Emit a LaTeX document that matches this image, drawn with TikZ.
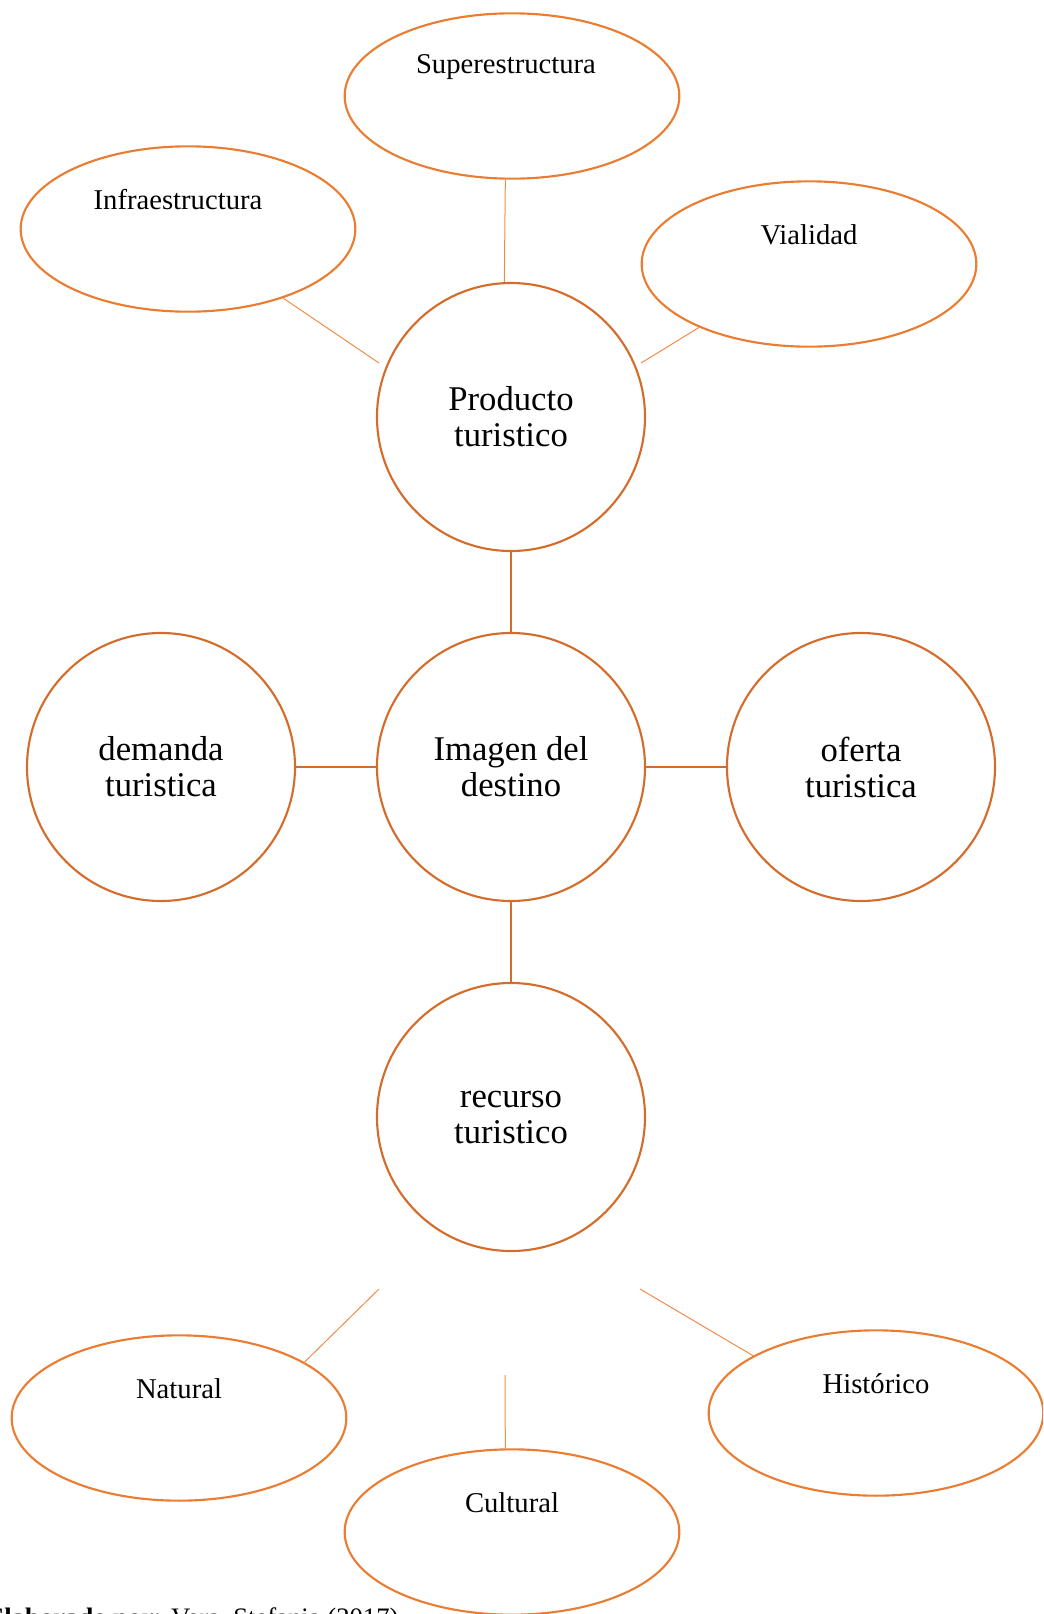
\documentclass[tikz,border=0pt]{standalone}
\usepackage{fontspec}
\setmainfont{Liberation Serif}
\usetikzlibrary{shapes.geometric}
\definecolor{ringc}{RGB}{212,108,44}
\definecolor{ovalc}{RGB}{235,125,50}
\definecolor{spokec}{RGB}{240,140,75}

\begin{document}
\begin{tikzpicture}[x=0.75pt,y=-0.75pt,
        circ/.style = {shape=circle, draw=ringc, line width=1.6pt,
            minimum size=201pt, align=center,
            font=\fontsize{26}{27}\selectfont},
        oval/.style = {shape=ellipse, draw=ovalc, line width=1.6pt,
            minimum width=251pt, minimum height=124pt},
        txt/.style = {font=\fontsize{21.5}{24}\selectfont, yshift=22pt},
        link/.style = {draw=ringc, line width=1.6pt},
        thin/.style = {draw=spokec, line width=0.75pt}]
        \useasboundingbox (0,0) rectangle (1043,1614);
        \clip (0,0) rectangle (1043,1614);
        \node[circ] (prod) at (511, 417) {Producto\\turistico};
        \node[circ] (img) at (511, 767) {Imagen del\\destino};
        \node[circ] (dem) at (161, 767) {demanda\\turistica};
        \node[circ] (ofe) at (861, 767) {oferta\\turistica};
        \node[circ] (rec) at (511, 1117) {recurso\\turistico};
        \node[oval, label={[txt,xshift=-4.5pt]center:Superestructura}] (super) at (512, 96) {};
        \node[oval, label={[txt,xshift=-7.5pt]center:Infraestructura}] (infra) at (188, 229) {};
        \node[oval, label={[txt]center:Vialidad}] (vial) at (809, 264) {};
        \node[oval, label={[txt]center:Natural}] (nat) at (179, 1418) {};
        \node[oval, label={[txt]center:Cultural}] (cult) at (512, 1532) {};
        \node[oval, label={[txt]center:Histórico}] (hist) at (876, 1413) {};
        \coordinate (pinfra) at (379, 363);
        \coordinate (pvial) at (641, 363);
        \coordinate (rnat) at (379, 1289);
        \coordinate (rcult) at (505, 1375);
        \coordinate (rhist) at (640, 1289);
        \draw[link] (prod) -- (img);
        \draw[link] (dem) -- (img);
        \draw[link] (img) -- (ofe);
        \draw[link] (img) -- (rec);
        \draw[thin] ([xshift=-5pt]super.south) -- ([xshift=-5pt]prod.north);
        \draw[thin] (infra.-36) -- (pinfra);
        \draw[thin] (vial.210) -- (pvial);
        \draw[thin] (rnat) -- (nat.24);
        \draw[thin] (rcult) -- ([xshift=-5pt]cult.north);
        \draw[thin] (rhist) -- (hist.155);
        \node[anchor=base west, font=\fontsize{20}{24}\selectfont] (fuente)
            at (-18, 1626) {\textbf{Elaborado por:} Vera, Stefania (2017)};
    \end{tikzpicture}
\end{document}
